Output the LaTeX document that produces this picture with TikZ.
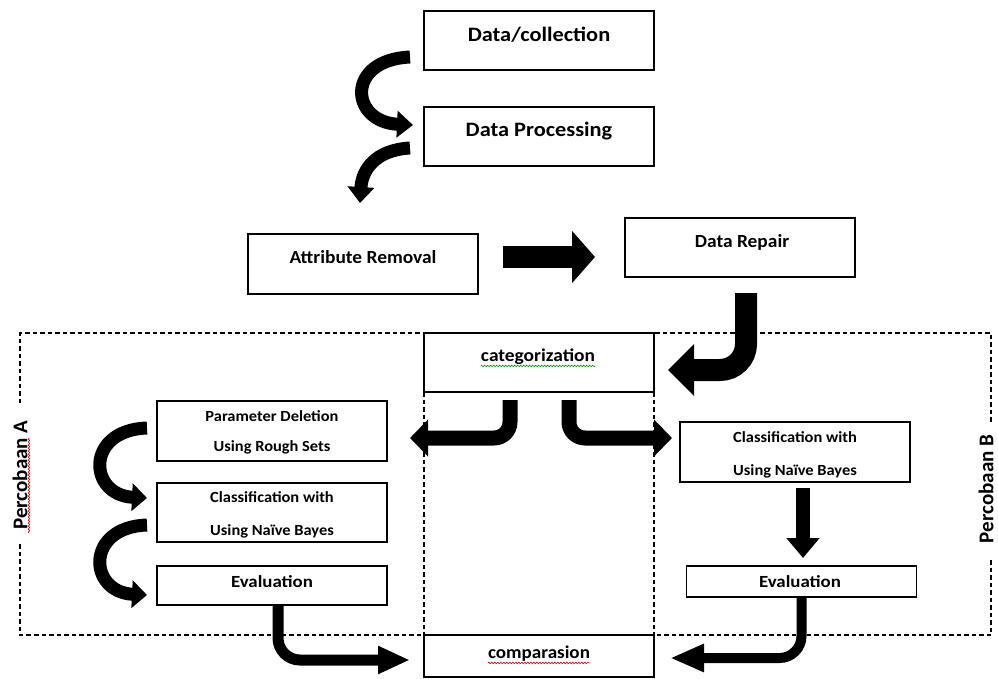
\documentclass[tikz,border=0pt]{standalone}
\usepackage{fontspec}
\setmainfont{Carlito}
\usetikzlibrary{arrows.meta,calc,decorations.pathmorphing}
\begin{document}
\begin{tikzpicture}[x=1pt,y=-1pt,
  box/.style={draw,line width=1.8pt,inner sep=0pt,outer sep=0pt,minimum width=230pt},
  lbl/.style 2 args={font=\bfseries\fontsize{#1}{#1}\selectfont,inner sep=0pt,anchor=base,xscale=#2,yshift={-0.33*#1}},
  side/.style={font=\bfseries\fontsize{#1}{#1}\selectfont,inner sep=0pt,rotate=90},
  fat/.style args={#1/#2/#3}{line width=#1pt,-{Triangle[width=#2pt,length=#3pt]}},
  frame/.style={line width=1.4pt,dash pattern=on 4.5pt off 3pt},
  wavyred/.style={red!85!black,line width=0.6pt,decorate,decoration={snake,amplitude=0.8pt,segment length=3pt}},
  wavygreen/.style={green!60!black,line width=0.6pt,decorate,decoration={snake,amplitude=0.8pt,segment length=3pt}}
]
\useasboundingbox (0,0) rectangle (998,679);

% dashed frame
\draw[frame] (20,403) -- (20,333) -- (991,333) -- (991,423);
\draw[frame] (991,560) -- (991,635) -- (20,635) -- (20,543);

% boxes
\node[box,minimum height=59pt] (dc)  at (539,40.5) {};
\node[box,minimum height=59pt] (dp)  at (539,136.5) {};
\node[box,minimum height=60pt] (ar)  at (363,264) {};
\node[box,minimum height=59pt] (dr)  at (740,247.5) {};
\node[box,minimum height=59pt] (cat) at (539,362.5) {};
\node[box,minimum height=60pt] (pd)  at (272,431) {};
\node[box,minimum height=59pt] (cl)  at (272,512.5) {};
\node[box,minimum height=39pt] (el)  at (272,585.5) {};
\node[box,minimum height=60pt] (cr)  at (795,452) {};
\node[box,minimum height=31pt] (er)  at (801.5,581.5) {};
\node[box,minimum height=42pt] (cmp) at (539,656) {};

% dashed verticals
\draw[frame] (cat.south west) -- (cmp.north west);
\draw[frame] (cat.south east) -- (cmp.north east);

% texts
\node[lbl={20.5}{1.09}] (tdc) at (539,35) {Data/collection};
\node[lbl={20.5}{1.09}] (tdp) at (539,130) {Data Processing};
\node[lbl={18.5}{1.05}] (tar) at (363,257) {Attribute Removal};
\node[lbl={18.5}{1.05}] (tdr) at (742,241) {Data Repair};
\node[lbl={18}{1.08}] (tcat) at (538,356) {categorization};
\node[lbl={15.5}{1.06}] (tpd1) at (272,416) {Parameter Deletion};
\node[lbl={15.5}{1.06}] (tpd2) at (272,446) {Using Rough Sets};
\node[lbl={15.5}{1.06}] (tcl1) at (272,497) {Classification with};
\node[lbl={15.5}{1.06}] (tcl2) at (272,530) {Using Naïve Bayes};
\node[lbl={17}{1.11}] (tel) at (272,582) {Evaluation};
\node[lbl={15.5}{1.06}] (tcr1) at (795,437) {Classification with};
\node[lbl={15.5}{1.06}] (tcr2) at (795,470) {Using Naïve Bayes};
\node[lbl={17}{1.11}] (ter) at (800,582) {Evaluation};
\node[lbl={18}{1.06}] (tcmp) at (539,653) {comparasion};
\node[side=21] (pa) at (20,475) {Percobaan A};
\node[side=21] (pb) at (986,489) {Percobaan B};

% spell-check underlines
\draw[wavygreen] ($(tcat.base west)+(0,4)$) -- ($(tcat.base east)+(0,4)$);
\draw[wavyred] ($(tcmp.base west)+(0,4)$) -- ($(tcmp.base east)+(0,4)$);
\draw[wavyred] (29,533) -- (29,438);

% arrows
\draw[fat=13/26/16] ($(dc.west)+(-14,16.5)$) .. controls (345,60) and (350,122) .. ($(dp.west)+(-11,-11.5)$);
\draw[fat=13/26/16] ($(dp.west)+(-14,11.5)$) .. controls (375,150) and (362,170) .. ($(ar.north)+(-3,-31)$);
\draw[fat=22/51/23] ($(ar.east)+(25,-7)$) -- ($(dr.west)+(-30,9.5)$);
\draw[fat=22/50/26,rounded corners=26pt] ($(dr.south)+(6,16)$) |- ($(cat.east)+(14,7.5)$);
\draw[fat=15/36/18,rounded corners=16pt] ($(cat.south)+(-29,8)$) |- ($(pd.east)+(23,7)$);
\draw[fat=15/36/18,rounded corners=16pt] ($(cat.south)+(30,8)$) |- ($(cr.west)+(-8,-14)$);
\draw[fat=14/32/20] ($(cr.south)+(8,6)$) -- ($(er.north)+(1.5,-8)$);
\draw[fat=11/26/32,rounded corners=22pt] ($(el.south)+(6,0)$) |- ($(cmp.west)+(-14,4)$);
\draw[fat=10/26/34,rounded corners=22pt] ($(er.south)+(0,0)$) |- ($(cmp.east)+(16,2)$);
\draw[fat=13/27/15] ($(pd.west)+(-10,-3)$) .. controls (85,430) and (88,495) .. ($(cl.west)+(-10,-14.5)$);
\draw[fat=13/27/15] ($(cl.west)+(-10,12.5)$) .. controls (85,527) and (88,592) .. ($(el.west)+(-10,9.5)$);
\end{tikzpicture}
\end{document}
